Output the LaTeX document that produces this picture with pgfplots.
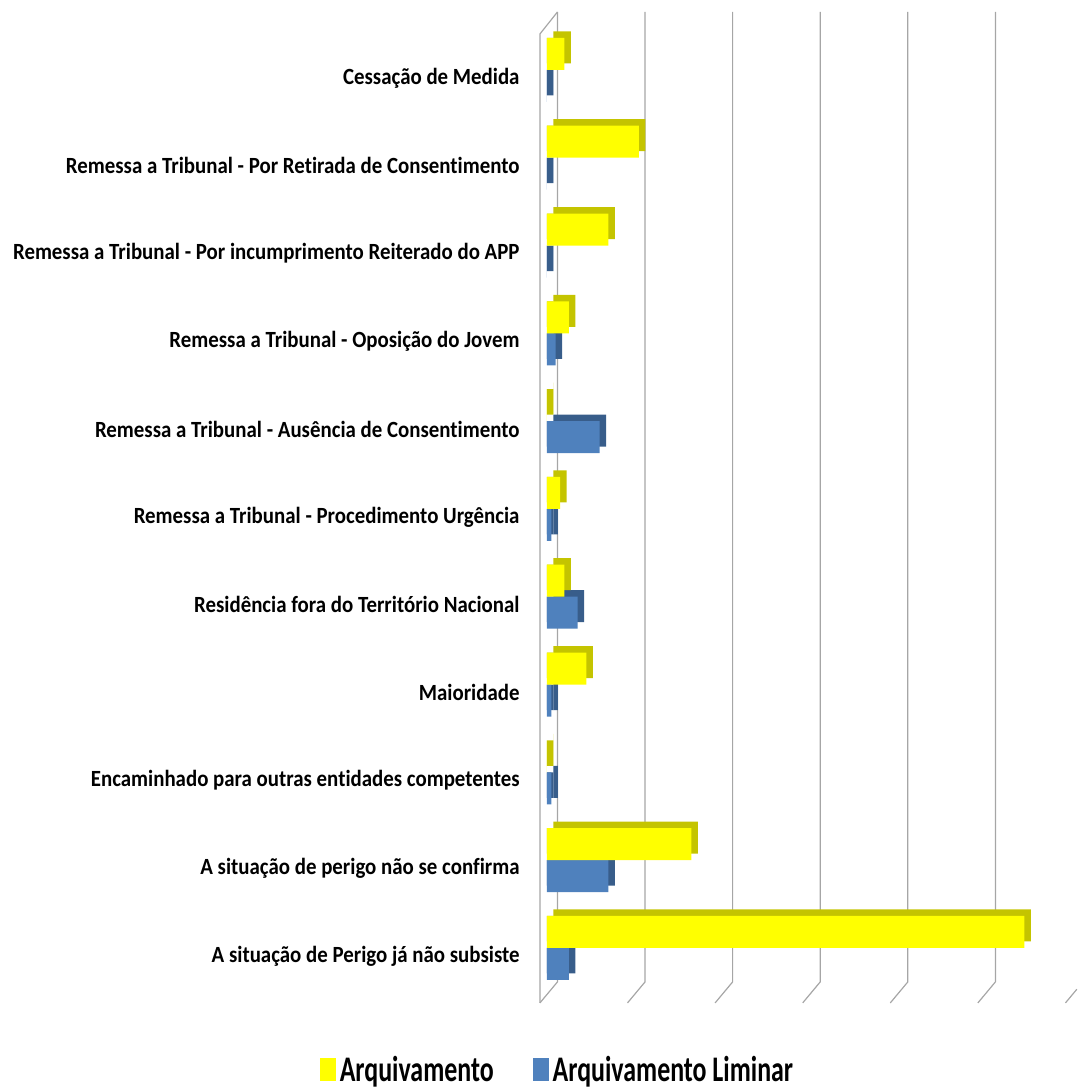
\documentclass[border=0pt]{standalone}
\usepackage{fontspec}
\setmainfont{Carlito}[FakeStretch=0.9, Ligatures=NoCommon]
\newfontfamily\legfont{Carlito}[FakeStretch=0.72, Ligatures=NoCommon]
\usepackage{pgfplots}
\usepackage{pgfplotstable}
\pgfplotsset{compat=1.18}
\definecolor{yfront}{HTML}{FFFF00}
\definecolor{yside}{HTML}{C4C400}
\definecolor{bfront}{HTML}{4F81BD}
\definecolor{bside}{HTML}{385D8A}
\definecolor{gridc}{HTML}{A6A6A6}

\pgfplotstableread{
cat arq lim
10 4 0
9 21 0
8 14 0
7 5 2
6 0 12
5 3 1
4 4 7
3 9 1
2 0 1
1 33 14
0 109 5
}\data

\begin{document}
\begin{tikzpicture}
\begin{axis}[
  at={(270pt,42.5pt)}, anchor=south west,
  scale only axis, width=268.5pt, height=495.5pt,
  xmin=-1.6, xmax=121, ymin=-0.626, ymax=10.66,
  axis line style={draw=none}, xtick=\empty, ytick={0,...,10},
  yticklabels={{A situação de Perigo já não subsiste},{A situação de perigo não se confirma},{Encaminhado para outras entidades competentes},{Maioridade},{Residência fora do Território Nacional},{Remessa a Tribunal - Procedimento Urgência},{Remessa a Tribunal - Ausência de Consentimento},{Remessa a Tribunal - Oposição do Jovem},{Remessa a Tribunal - Por incumprimento Reiterado do APP},{Remessa a Tribunal - Por Retirada de Consentimento},{Cessação de Medida}},
  major tick length=0pt,
  yticklabel style={font=\fontsize{11.6}{14}\selectfont\bfseries, anchor=east, inner sep=0pt, xshift=-10pt, yshift=-4pt},
  xbar, bar width=16pt,
  clip=false,
  legend image code/.code={\fill[#1, draw=none] (0pt,-5.75pt) rectangle (8pt,5.75pt);},
  legend style={at={(0.0345,-0.0676)}, anchor=center, draw=none, fill=none, legend columns=2,
    font=\legfont\fontsize{18}{20}\selectfont\bfseries,
    /tikz/every even column/.append style={column sep=17.5pt},
    inner sep=0pt},
]
\draw[gridc, line width=0.6pt] (axis cs:2.4,10.66) -- (axis cs:2.4,-0.387) -- (axis cs:-1.6,-0.626);
\draw[gridc, line width=0.6pt] (axis cs:22.4,10.66) -- (axis cs:22.4,-0.387) -- (axis cs:18.4,-0.626);
\draw[gridc, line width=0.6pt] (axis cs:42.4,10.66) -- (axis cs:42.4,-0.387) -- (axis cs:38.4,-0.626);
\draw[gridc, line width=0.6pt] (axis cs:62.4,10.66) -- (axis cs:62.4,-0.387) -- (axis cs:58.4,-0.626);
\draw[gridc, line width=0.6pt] (axis cs:82.4,10.66) -- (axis cs:82.4,-0.387) -- (axis cs:78.4,-0.626);
\draw[gridc, line width=0.6pt] (axis cs:102.4,10.66) -- (axis cs:102.4,-0.387) -- (axis cs:98.4,-0.626);
\draw[gridc, line width=0.6pt] (axis cs:118.4,-0.626) -- (axis cs:121,-0.47);
\draw[gridc, line width=0.6pt] (axis cs:2.4,10.66) -- (axis cs:-1.6,10.41) -- (axis cs:-1.6,-0.626);
\addlegendimage{fill=yfront}
\addlegendentry{Arquivamento}
\addlegendimage{fill=bfront}
\addlegendentry{Arquivamento Liminar}
% blue: side sliver, shifted top/side block, front face
\addplot[forget plot, fill=bside, draw=none, bar width=12.75pt, bar shift=-6.375pt] table[x expr=1.48, y=cat] {\data};
\addplot[forget plot, fill=bside, draw=none, bar shift=-4.75pt, xshift=3.25pt] table[x=lim, y=cat] {\data};
\addplot[forget plot, fill=bfront, draw=none, bar shift=-8pt] table[x=lim, y=cat] {\data};
% yellow
\addplot[forget plot, fill=yside, draw=none, bar width=12.75pt, bar shift=9.625pt] table[x expr=1.48, y=cat] {\data};
\addplot[forget plot, fill=yside, draw=none, bar shift=11.25pt, xshift=3.25pt] table[x=arq, y=cat] {\data};
\addplot[forget plot, fill=yfront, draw=none, bar shift=8pt] table[x=arq, y=cat] {\data};
\end{axis}
\useasboundingbox (0,0) rectangle (538.5pt,544pt);
\end{tikzpicture}
\end{document}
